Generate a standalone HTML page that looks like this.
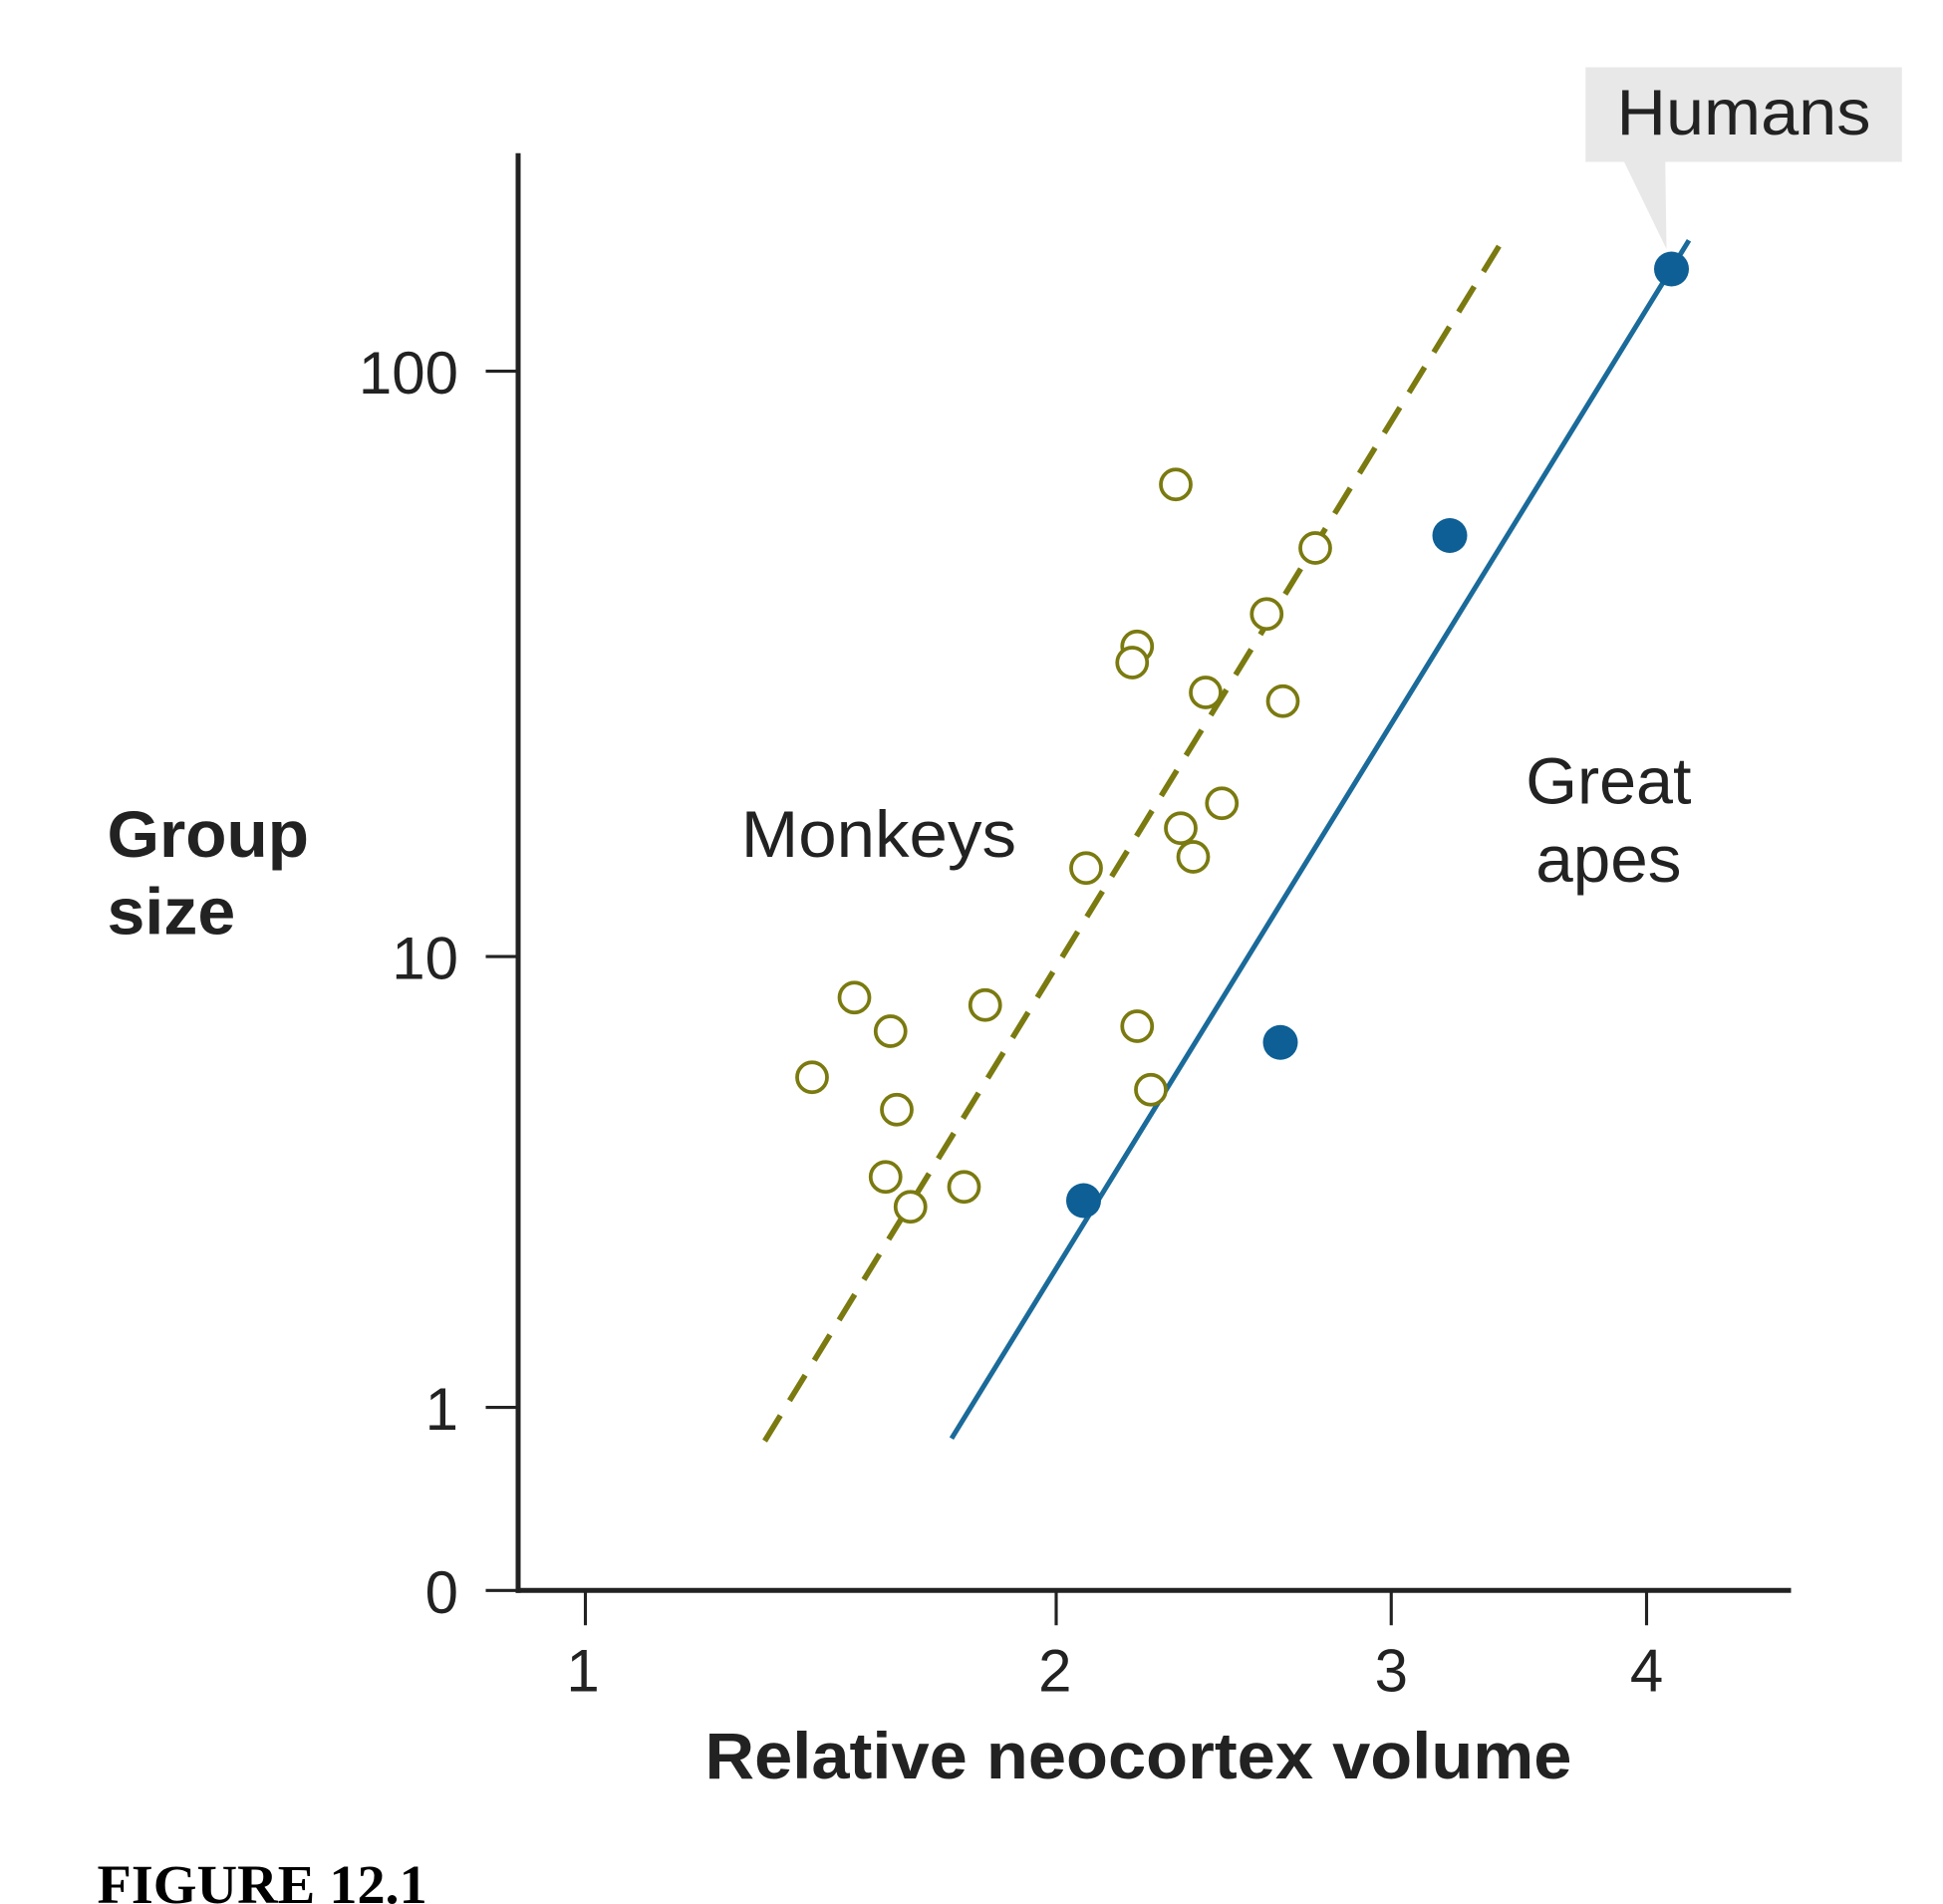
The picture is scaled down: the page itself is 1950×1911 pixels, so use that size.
<!DOCTYPE html>
<html><head><meta charset="utf-8"><style>
html,body{margin:0;padding:0;background:#fff;width:1950px;height:1911px;overflow:hidden}
svg{display:block}
text{font-family:"Liberation Sans",Arial,sans-serif;fill:#222}
</style></head><body>
<svg width="1950" height="1911" viewBox="0 0 1560 1528.8" xmlns="http://www.w3.org/2000/svg">
<rect x="1273" y="54" width="254" height="76" fill="#e8e8e8"/>
<polygon points="1304,130 1337,130 1338,200" fill="#e8e8e8"/>
<text x="1298" y="108" font-size="52" textLength="204" lengthAdjust="spacingAndGlyphs">Humans</text>
<line x1="416" y1="123" x2="416" y2="1279" stroke="#222" stroke-width="4"/>
<line x1="414" y1="1277" x2="1438" y2="1277" stroke="#222" stroke-width="4"/>
<g stroke="#222" stroke-width="2.5">
<line x1="390" y1="298" x2="416" y2="298"/><line x1="390" y1="768" x2="416" y2="768"/>
<line x1="390" y1="1130" x2="416" y2="1130"/><line x1="390" y1="1277" x2="416" y2="1277"/>
<line x1="470" y1="1277" x2="470" y2="1305"/><line x1="848" y1="1277" x2="848" y2="1305"/>
<line x1="1117" y1="1277" x2="1117" y2="1305"/><line x1="1322" y1="1277" x2="1322" y2="1305"/>
</g>
<g font-size="48" text-anchor="end">
<text x="368" y="316">100</text><text x="368" y="786">10</text>
<text x="368" y="1148">1</text><text x="368" y="1295">0</text>
</g>
<g font-size="48" text-anchor="middle">
<text x="468" y="1358">1</text><text x="847" y="1358">2</text>
<text x="1117" y="1358">3</text><text x="1322" y="1358">4</text>
</g>
<text x="566" y="1428" font-size="53" font-weight="bold" textLength="696" lengthAdjust="spacingAndGlyphs">Relative neocortex volume</text>
<text x="86" y="688" font-size="53" font-weight="bold" textLength="162" lengthAdjust="spacingAndGlyphs">Group</text>
<text x="86" y="750" font-size="53" font-weight="bold" textLength="103" lengthAdjust="spacingAndGlyphs">size</text>
<text x="595" y="688" font-size="53" textLength="221" lengthAdjust="spacingAndGlyphs">Monkeys</text>
<text x="1225" y="645" font-size="53" textLength="133" lengthAdjust="spacingAndGlyphs">Great</text>
<text x="1233" y="708" font-size="53" textLength="117" lengthAdjust="spacingAndGlyphs">apes</text>
<text x="78" y="1528" font-size="44" font-weight="bold" textLength="265" lengthAdjust="spacingAndGlyphs" style="font-family:'Liberation Serif',serif;fill:#000">FIGURE 12.1</text>
<line x1="614" y1="1157" x2="1207" y2="192" stroke="#7a7a10" stroke-width="4.5" stroke-dasharray="24,14"/>
<line x1="764" y1="1155" x2="1356" y2="193" stroke="#1a6a9a" stroke-width="4"/>
<g fill="#fff" stroke="#7a7a10" stroke-width="3">
<circle cx="944" cy="389" r="12"/><circle cx="1056" cy="440" r="12"/><circle cx="1017" cy="493" r="12"/>
<circle cx="913" cy="519" r="12"/><circle cx="909" cy="532" r="12"/><circle cx="968" cy="556" r="12"/>
<circle cx="1030" cy="563" r="12"/><circle cx="981" cy="645" r="12"/><circle cx="948" cy="665" r="12"/>
<circle cx="958" cy="688" r="12"/><circle cx="872" cy="697" r="12"/><circle cx="686" cy="801" r="12"/>
<circle cx="715" cy="828" r="12"/><circle cx="791" cy="807" r="12"/><circle cx="652" cy="865" r="12"/>
<circle cx="720" cy="891" r="12"/><circle cx="913" cy="824" r="12"/><circle cx="924" cy="875" r="12"/>
<circle cx="711" cy="945" r="12"/><circle cx="731" cy="969" r="12"/><circle cx="774" cy="953" r="12"/>
</g>
<g fill="#0d5f95">
<circle cx="1342" cy="216" r="14"/><circle cx="1164" cy="430" r="14"/>
<circle cx="1028" cy="837" r="14"/><circle cx="870" cy="964" r="14"/>
</g>
</svg>
</body></html>
